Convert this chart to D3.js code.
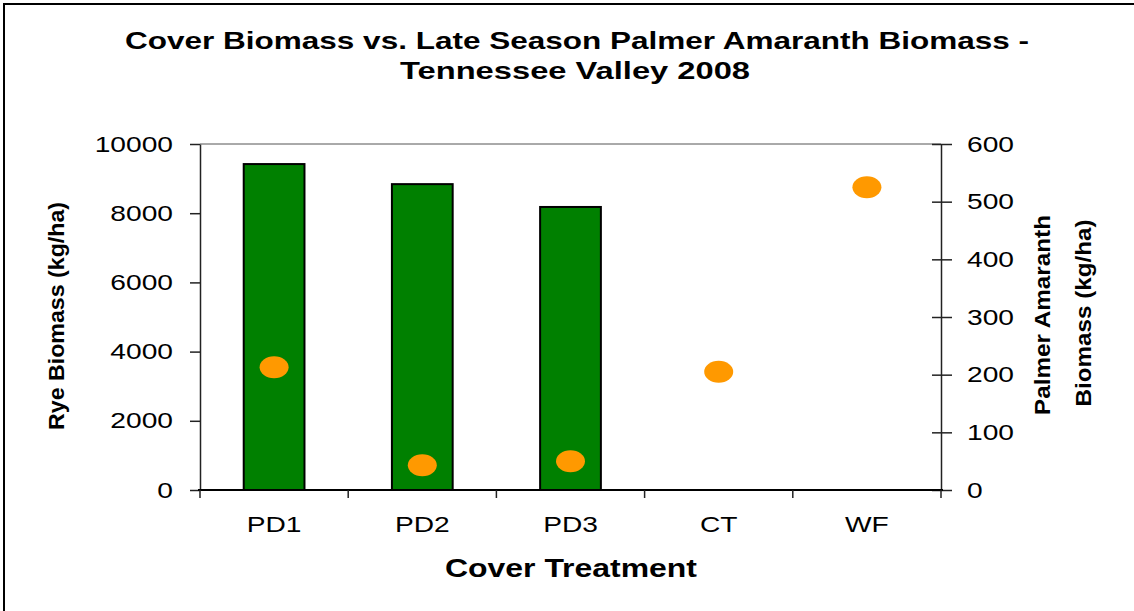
<!DOCTYPE html>
<html>
<head>
<meta charset="utf-8">
<script src="https://cdn.jsdelivr.net/npm/d3@7"></script>
<style>
  body { margin: 0; background: #fff; }
  text { font-family: "Liberation Sans", Arial, sans-serif; fill: #000; }
</style>
</head>
<body>
<svg id="chart" width="1134" height="611"></svg>
<script>
const categories = ['PD1', 'PD2', 'PD3', 'CT', 'WF'];
const ryeBiomass = [9420, 8840, 8180, null, null];
const palmerBiomass = [213, 43, 50, 205, 525];
const leftTicks = [0, 2000, 4000, 6000, 8000, 10000];
const rightTicks = [0, 100, 200, 300, 400, 500, 600];

const svg = d3.select('#chart');
const plotL = 200, plotR = 941, plotT = 144, plotB = 490;
const stretch = 1.28; // text in the original is drawn wide

// frame (only top and left edges show)
svg.append('rect')
    .attr('x', 4).attr('y', 4)
    .attr('width', 1140).attr('height', 620)
    .attr('fill', 'none').attr('stroke', '#000').attr('stroke-width', 2);

const x = d3.scaleBand().domain(categories).range([plotL, plotR]);
const yL = d3.scaleLinear().domain([0, 10000]).range([plotB, plotT]);
const yR = d3.scaleLinear().domain([0, 600]).range([plotB, plotT]);

// top border of plot
svg.append('line')
    .attr('x1', plotL).attr('x2', plotR).attr('y1', plotT).attr('y2', plotT)
    .attr('stroke', '#555').attr('stroke-width', 1);

const barW = x.bandwidth() * 0.41;
svg.selectAll('rect.bar')
  .data(categories.map((c, i) => ({c, v: ryeBiomass[i]})).filter(d => d.v != null))
  .enter().append('rect')
    .attr('class', 'bar')
    .attr('x', d => x(d.c) + x.bandwidth() / 2 - barW / 2)
    .attr('y', d => yL(d.v))
    .attr('width', barW)
    .attr('height', d => yL(0) - yL(d.v))
    .attr('fill', '#008000')
    .attr('stroke', '#000').attr('stroke-width', 2);

svg.selectAll('ellipse.dot')
  .data(categories.map((c, i) => ({c, v: palmerBiomass[i]})))
  .enter().append('ellipse')
    .attr('class', 'dot')
    .attr('cx', d => x(d.c) + x.bandwidth() / 2)
    .attr('cy', d => yR(d.v))
    .attr('rx', 14.5).attr('ry', 11)
    .attr('fill', '#FF9900');

// axes
const axL = svg.append('g').attr('transform', `translate(${plotL},0)`)
    .call(d3.axisLeft(yL).tickValues(leftTicks).tickSize(10).tickSizeOuter(0).tickPadding(17).tickFormat(d3.format('d')));
const axR = svg.append('g').attr('transform', `translate(${plotR},0)`)
    .call(d3.axisRight(yR).tickValues(rightTicks).tickSize(0).tickSizeOuter(0).tickPadding(26));
axR.selectAll('.tick').append('line').attr('x1', -9).attr('x2', 11).attr('stroke', '#000');
const axB = svg.append('g').attr('transform', `translate(0,${plotB})`)
    .call(d3.axisBottom(x).tickSize(0).tickSizeOuter(0).tickPadding(26));

[axL, axR, axB].forEach(a => {
  a.selectAll('text').attr('font-size', 22).attr('font-family', '"Liberation Sans", Arial, sans-serif').attr('fill', '#000');
  a.selectAll('line, path').attr('stroke', '#222').attr('stroke-width', 1.5);
  a.selectAll('text').each(function() {
    const t = d3.select(this);
    t.attr('textLength', this.getComputedTextLength() * stretch).attr('lengthAdjust', 'spacingAndGlyphs');
  });
});
axB.select('.domain').attr('d', `M${plotL - 2},0H${plotR + 2}`).attr('stroke', '#000').attr('stroke-width', 2);

// category boundary ticks
svg.selectAll('line.xtick')
  .data(categories.concat(['end']))
  .enter().append('line')
    .attr('x1', (d, i) => i < categories.length ? x(d) : plotR)
    .attr('x2', (d, i) => i < categories.length ? x(d) : plotR)
    .attr('y1', plotB).attr('y2', plotB + 8)
    .attr('stroke', '#222').attr('stroke-width', 1.5);

// titles
svg.append('text').attr('x', 577).attr('y', 49).attr('text-anchor', 'middle')
    .attr('font-size', 24).attr('font-weight', 'bold')
    .attr('textLength', 904).attr('lengthAdjust', 'spacingAndGlyphs')
    .text('Cover Biomass vs. Late Season Palmer Amaranth Biomass -');
svg.append('text').attr('x', 575).attr('y', 79).attr('text-anchor', 'middle')
    .attr('font-size', 24).attr('font-weight', 'bold')
    .attr('textLength', 350).attr('lengthAdjust', 'spacingAndGlyphs')
    .text('Tennessee Valley 2008');

svg.append('text').attr('x', 571).attr('y', 577).attr('text-anchor', 'middle')
    .attr('font-size', 25).attr('font-weight', 'bold')
    .attr('textLength', 252).attr('lengthAdjust', 'spacingAndGlyphs')
    .text('Cover Treatment');

svg.append('text').attr('transform', 'translate(64,316) rotate(-90)').attr('text-anchor', 'middle')
    .attr('font-size', 22).attr('font-weight', 'bold')
    .attr('textLength', 228).attr('lengthAdjust', 'spacingAndGlyphs')
    .text('Rye Biomass (kg/ha)');

svg.append('text').attr('transform', 'translate(1050,315) rotate(-90)').attr('text-anchor', 'middle')
    .attr('font-size', 22).attr('font-weight', 'bold')
    .attr('textLength', 200).attr('lengthAdjust', 'spacingAndGlyphs')
    .text('Palmer Amaranth');
svg.append('text').attr('transform', 'translate(1091,313) rotate(-90)').attr('text-anchor', 'middle')
    .attr('font-size', 22).attr('font-weight', 'bold')
    .attr('textLength', 187).attr('lengthAdjust', 'spacingAndGlyphs')
    .text('Biomass (kg/ha)');
</script>
</body>
</html>
